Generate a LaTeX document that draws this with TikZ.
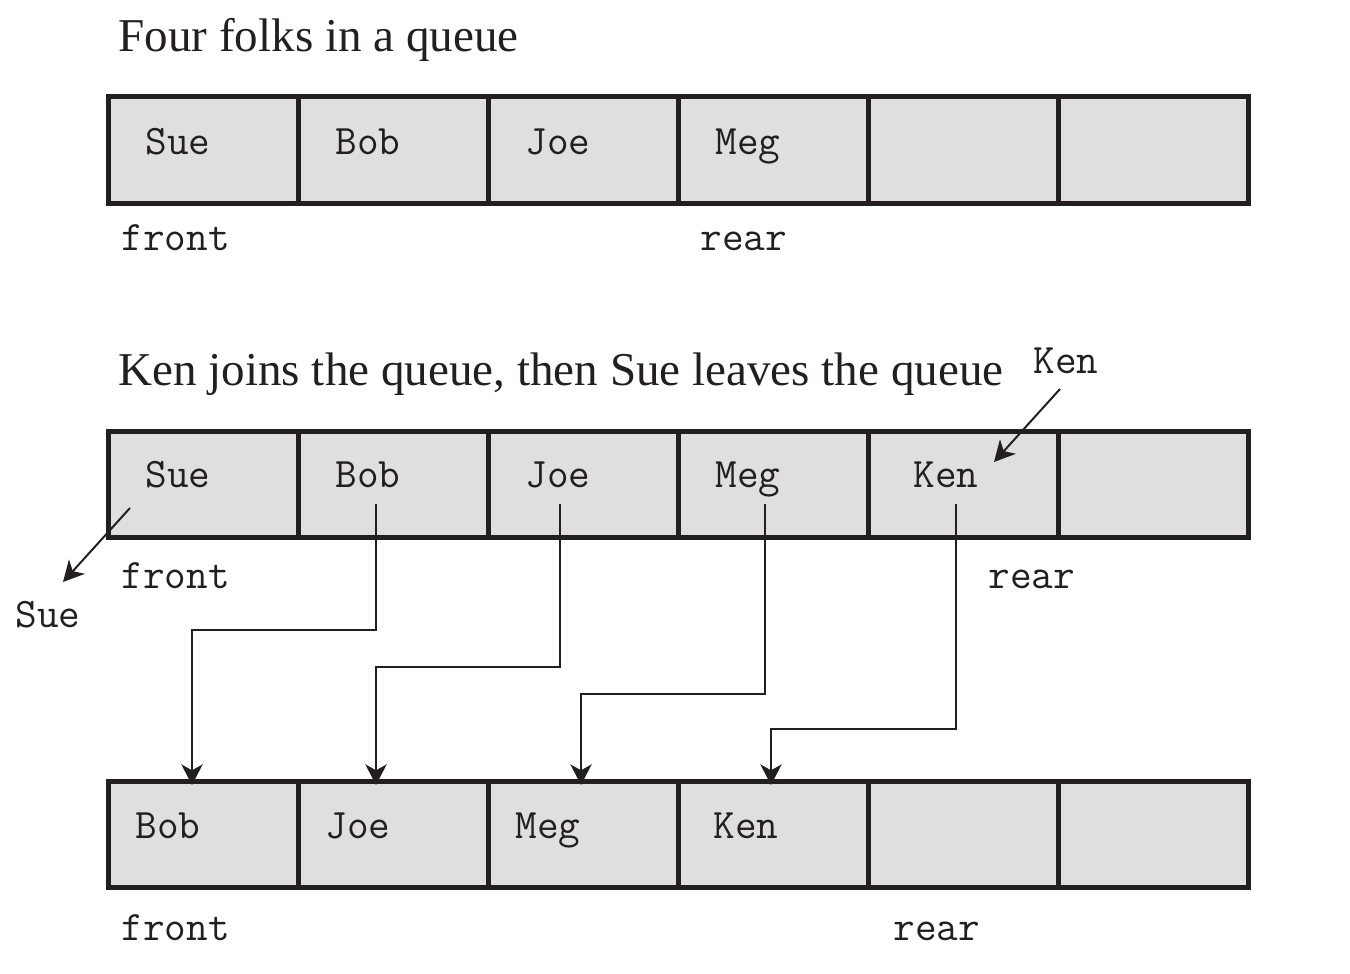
\documentclass[tikz,border=0pt]{standalone}
\usepackage{fontspec}
\setmainfont{Liberation Serif}
\usetikzlibrary{arrows.meta}
\definecolor{qline}{RGB}{35,31,32}
\definecolor{qfill}{RGB}{223,223,223}
\tikzset{
	cell/.style={draw=qline, fill=qfill, line width=3.75pt, inner sep=0pt, outer sep=0pt, minimum width=142.5pt, minimum height=79.5pt},
	mono/.style={font=\fontsize{31.5}{31.5}\selectfont\ttfamily, text=qline, inner sep=0pt, anchor=base west},
	heading/.style={font=\fontsize{35.3}{35.3}\selectfont, text=qline, inner sep=0pt, anchor=base west},
	mv/.style={draw=qline, line width=1.5pt, -{Stealth[length=15.5pt,width=16pt,inset=4.5pt]}}
}
\tikzset{every picture/.style={line width=0.75pt}}
\begin{document}
\begin{tikzpicture}[x=0.75pt,y=0.75pt,yscale=-1,xscale=1]
	\useasboundingbox (0,0) rectangle (1350,974);

	% Text Node
	\node[heading] (head1) at (118,52) {Four folks in a queue};
	% Text Node
	\node[heading] (head2) at (118,385) {Ken joins the queue, then Sue leaves the queue};

	%Shape: Rectangle [first queue]
	\node[cell] (a1) at (203,150) {};
	\node[cell] (a2) at (393,150) {};
	\node[cell] (a3) at (583,150) {};
	\node[cell] (a4) at (773,150) {};
	\node[cell] (a5) at (963,150) {};
	\node[cell] (a6) at (1153,150) {};
	%Shape: Rectangle [second queue]
	\node[cell] (b1) at (203,484) {};
	\node[cell] (b2) at (393,484) {};
	\node[cell] (b3) at (583,484) {};
	\node[cell] (b4) at (773,484) {};
	\node[cell] (b5) at (963,484) {};
	\node[cell] (b6) at (1153,484) {};
	%Shape: Rectangle [third queue]
	\node[cell] (c1) at (203,834) {};
	\node[cell] (c2) at (393,834) {};
	\node[cell] (c3) at (583,834) {};
	\node[cell] (c4) at (773,834) {};
	\node[cell] (c5) at (963,834) {};
	\node[cell] (c6) at (1153,834) {};

	% Text Node
	\node[mono] (a1t) at (145,154) {Sue};
	\node[mono] (a2t) at (335,154) {Bob};
	\node[mono] (a3t) at (525,154) {Joe};
	\node[mono] (a4t) at (715,154) {Meg};
	\node[mono] (afront) at (121,250) {front};
	\node[mono] (arear) at (700,250) {rear};

	% Text Node
	\node[mono] (b1t) at (145,487) {Sue};
	\node[mono] (b2t) at (335,487) {Bob};
	\node[mono] (b3t) at (525,487) {Joe};
	\node[mono] (b4t) at (715,487) {Meg};
	\node[mono] (b5t) at (913,487) {Ken};
	\node[mono] (bfront) at (121,588) {front};
	\node[mono] (brear) at (988,588) {rear};
	\node[mono] (sueout) at (15,627) {Sue};
	\node[mono] (kenin) at (1033,373) {Ken};

	% Text Node
	\node[mono] (c1t) at (135,838) {Bob};
	\node[mono] (c2t) at (325,838) {Joe};
	\node[mono] (c3t) at (515,838) {Meg};
	\node[mono] (c4t) at (713,838) {Ken};
	\node[mono] (cfront) at (121,940) {front};
	\node[mono] (crear) at (893,940) {rear};

	% Connector ends
	\coordinate (suefrom) at (130,508);
	\coordinate (sueto) at (63,582);
	\coordinate (kenfrom) at (1060,389);
	\coordinate (kento) at (994,462);
	\coordinate (bobfrom) at (376,504);
	\coordinate (bobto) at (192,785);
	\coordinate (joefrom) at (560,504);
	\coordinate (joeto) at (376,785);
	\coordinate (megfrom) at (765,504);
	\coordinate (megto) at (581,785);
	\coordinate (kenfrom2) at (956,504);
	\coordinate (kento2) at (771,785);

	%Straight Lines [leaving, joining]
	\draw[mv] (suefrom) -- (sueto);
	\draw[mv] (kenfrom) -- (kento);
	%Straight Lines [moving up]
	\draw[mv] (bobfrom) -- ++(0,126) -| (bobto);
	\draw[mv] (joefrom) -- ++(0,163) -| (joeto);
	\draw[mv] (megfrom) -- ++(0,190) -| (megto);
	\draw[mv] (kenfrom2) -- ++(0,225) -| (kento2);

\end{tikzpicture}
\end{document}
